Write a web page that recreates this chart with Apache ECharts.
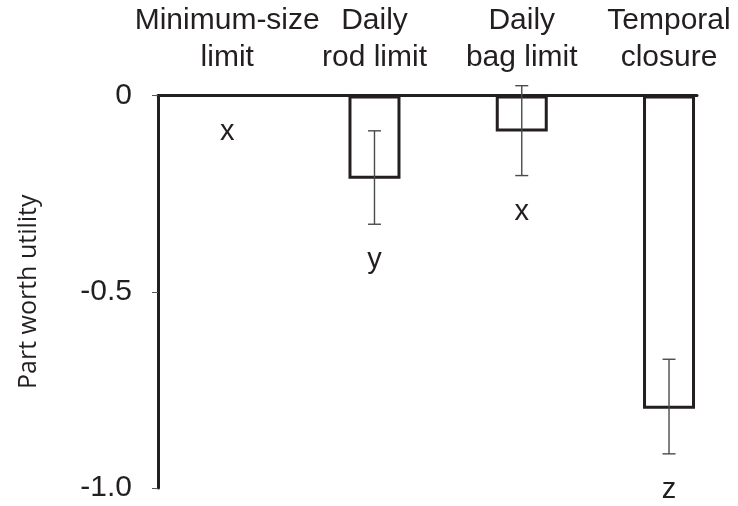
<!DOCTYPE html>
<html>
<head>
<meta charset="utf-8">
<script src="https://cdn.jsdelivr.net/npm/echarts@6/dist/echarts.min.js"></script>
<style>html,body{margin:0;padding:0;background:#fff}#c{width:738px;height:506px}</style>
</head>
<body>
<div id="c"></div>
<script>
var categories = ['Minimum-size\nlimit', 'Daily\nrod limit', 'Daily\nbag limit', 'Temporal\nclosure'];
var values = [null, -0.212, -0.092, -0.798];
var errHigh = [null, -0.09, 0.025, -0.672];
var errLow = [null, -0.328, -0.204, -0.913];
var letters = ['x', 'y', 'x', 'z'];
var yTicks = [0, -0.5, -1.0];

var ink = '#231f20';
var chart = echarts.init(document.getElementById('c'));

var barData = values.map(function (v, i) { return [i, v == null ? '-' : v]; });
var errData = values.map(function (v, i) { return [i, errLow[i], errHigh[i]]; });
var letterData = letters.map(function (l, i) { return [i, errLow[i] == null ? 0 : errLow[i], l]; });

chart.setOption({
  animation: false,
  grid: { left: 158, right: 41, top: 95.5, bottom: 18 },
  xAxis: {
    type: 'value', position: 'top', min: -0.47, max: 3.19,
    splitLine: { show: false },
    axisLine: { show: true, onZero: false, lineStyle: { color: ink, width: 3 } },
    axisTick: { show: false },
    axisLabel: {
      customValues: [0, 1, 2, 3],
      formatter: function (v) { return categories[Math.round(v)]; },
      fontFamily: 'Liberation Sans', fontSize: 30, lineHeight: 37, color: ink, margin: 19
    }
  },
  yAxis: {
    type: 'value', min: -1, max: 0, interval: 0.5,
    name: 'Part worth utility', nameLocation: 'middle', nameRotate: 90, nameGap: 117,
    nameTextStyle: { fontFamily: 'Open Sans', fontSize: 25, color: ink },
    splitLine: { show: false },
    axisLine: { show: true, onZero: false, lineStyle: { color: ink, width: 3 } },
    axisTick: { show: true, length: 6, lineStyle: { color: '#555', width: 1 } },
    axisLabel: {
      customValues: yTicks,
      fontFamily: 'Liberation Sans', fontSize: 30, color: ink, margin: 26,
      formatter: function (v) { return v === 0 ? '0' : v.toFixed(1); }
    }
  },
  series: [
    {
      type: 'bar', data: barData, barWidth: 52,
      itemStyle: { color: '#fff', borderColor: ink, borderWidth: 3 }
    },
    {
      type: 'custom', data: errData,
      renderItem: function (params, api) {
        if (errLow[params.dataIndex] == null) return null;
        var x = api.value(0);
        var lo = api.coord([x, api.value(1)]);
        var hi = api.coord([x, api.value(2)]);
        var cw = 6.5;
        var st = { stroke: '#4a4a4a', lineWidth: 1.4 };
        return {
          type: 'group', children: [
            { type: 'line', shape: { x1: lo[0], y1: lo[1], x2: hi[0], y2: hi[1] }, style: st },
            { type: 'line', shape: { x1: lo[0] - cw, y1: lo[1], x2: lo[0] + cw, y2: lo[1] }, style: st },
            { type: 'line', shape: { x1: hi[0] - cw, y1: hi[1], x2: hi[0] + cw, y2: hi[1] }, style: st }
          ]
        };
      },
      z: 5
    },
    {
      type: 'custom', data: letterData,
      renderItem: function (params, api) {
        var p = api.coord([api.value(0), api.value(1)]);
        return {
          type: 'text',
          style: {
            x: p[0], y: p[1] + 36, text: letters[params.dataIndex],
            fontFamily: 'Liberation Sans', fontSize: 29, fill: ink,
            align: 'center', verticalAlign: 'middle'
          }
        };
      },
      z: 6
    }
  ]
});
</script>
</body>
</html>
